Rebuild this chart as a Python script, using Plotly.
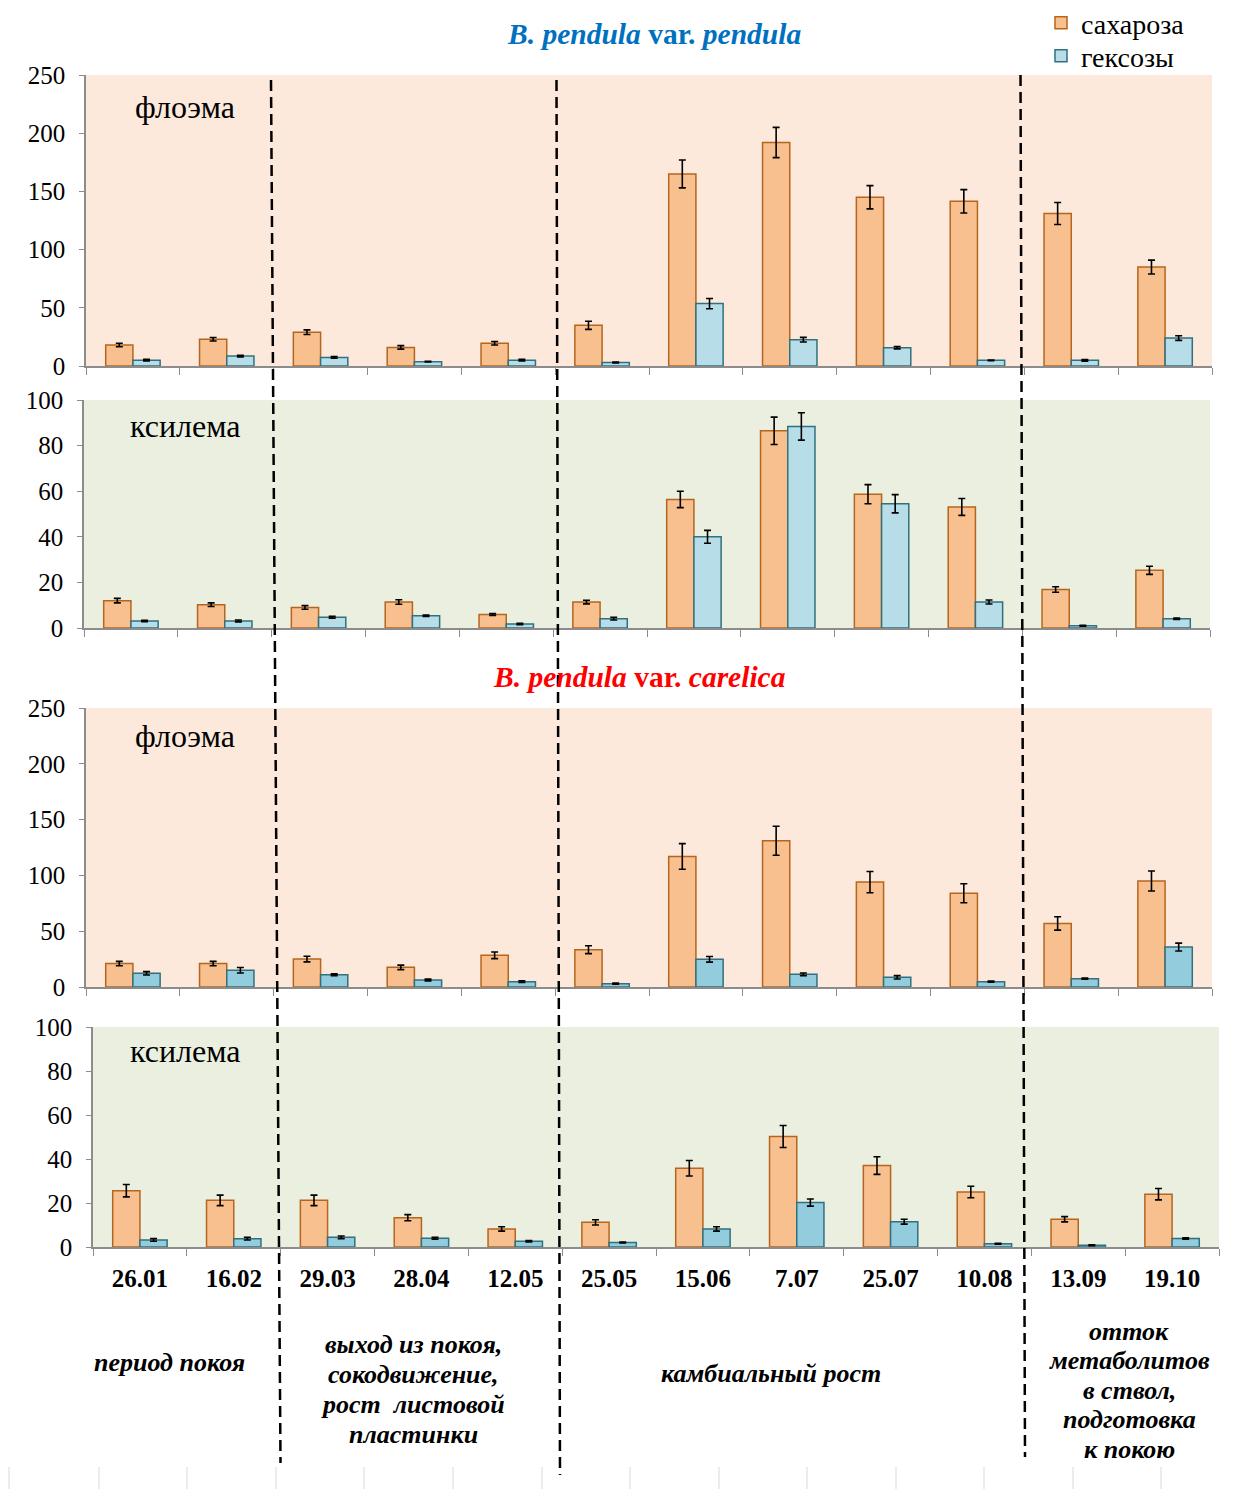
import plotly.graph_objects as go

# ---------------- data ----------------
dates = ["26.01", "16.02", "29.03", "28.04", "12.05", "25.05",
         "15.06", "7.07", "25.07", "10.08", "13.09", "19.10"]
series_names = ["сахароза", "гексозы"]

pendula_phloem_suc = [18, 23, 29, 16, 19.5, 35, 165, 192, 145, 141.5, 131, 85]
pendula_phloem_suc_err = [1.5, 1.5, 2, 1.5, 1.5, 3.5, 12, 13, 10, 10, 9.5, 6]
pendula_phloem_hex = [5, 8.5, 7.4, 3.7, 5, 3, 53.6, 22.6, 15.7, 4.9, 4.9, 24]
pendula_phloem_hex_err = [0.7, 0.7, 0.7, 0.3, 0.7, 0.3, 4.4, 2, 1, 0.3, 0.7, 2]

pendula_xylem_suc = [12, 10.2, 9, 11.4, 5.9, 11.4, 56.4, 86.5, 58.7, 53.1, 16.9, 25.3]
pendula_xylem_suc_err = [1, 0.8, 0.8, 1, 0.4, 0.8, 3.6, 6, 4.2, 3.7, 1.2, 1.8]
pendula_xylem_hex = [3.1, 3.1, 4.7, 5.4, 1.8, 4.1, 40, 88.4, 54.5, 11.4, 1.0, 4.1]
pendula_xylem_hex_err = [0.3, 0.4, 0.4, 0.3, 0.3, 0.6, 2.8, 6, 4, 0.9, 0.2, 0.3]

carelica_phloem_suc = [21, 21, 25, 17.6, 28.4, 33.4, 117, 131, 94, 84, 57, 95]
carelica_phloem_suc_err = [2, 2, 2.5, 2, 3, 3.5, 11.5, 13, 9.5, 8.5, 6, 9]
carelica_phloem_hex = [12.3, 15, 11, 6.3, 4.8, 3, 24.8, 11.4, 8.7, 4.8, 7.5, 35.8]
carelica_phloem_hex_err = [1.5, 2.5, 0.8, 0.8, 0.8, 0.5, 2.5, 1.2, 1.5, 0.5, 0.6, 3.5]

carelica_xylem_suc = [25.6, 21.2, 21.2, 13.3, 8.2, 11.2, 35.8, 50.2, 37, 25, 12.6, 24]
carelica_xylem_suc_err = [2.8, 2.4, 2.4, 1.4, 1, 1.2, 3.5, 5, 4, 2.6, 1.2, 2.6]
carelica_xylem_hex = [3.2, 3.8, 4.4, 4, 2.6, 2, 8.2, 20.2, 11.5, 1.5, 0.8, 3.9]
carelica_xylem_hex_err = [0.6, 0.6, 0.6, 0.4, 0.3, 0.2, 1, 1.6, 1.1, 0.2, 0.2, 0.3]

panel_labels = ["флоэма", "ксилема", "флоэма", "ксилема"]
title_pendula = "<b><i>B. pendula</i> var. <i>pendula</i></b>"
title_carelica = "<b><i>B. pendula</i> var. <i>carelica</i></b>"
phase_labels = [
    ["период покоя"],
    ["выход из покоя,", "сокодвижение,", "рост  листовой", "пластинки"],
    ["камбиальный рост"],
    ["отток", "метаболитов", "в ствол,", "подготовка", "к покою"],
]

# ---------------- layout constants ----------------
W, H = 1240, 1489
FONT = "Liberation Serif"


def fx(px):
    return px / W


def fy(py):
    return 1 - py / H


panels = [
    dict(suc=pendula_phloem_suc, suc_err=pendula_phloem_suc_err,
         hex=pendula_phloem_hex, hex_err=pendula_phloem_hex_err,
         x=(86, 1212), y=(75, 366), rng=250, dtick=50, bg="#FCE9DB",
         hexcol="#B7DEE8", label_xy=(185, 107)),
    dict(suc=pendula_xylem_suc, suc_err=pendula_xylem_suc_err,
         hex=pendula_xylem_hex, hex_err=pendula_xylem_hex_err,
         x=(84, 1210), y=(400, 628), rng=100, dtick=20, bg="#EBEFDF",
         hexcol="#B7DEE8", label_xy=(185, 426)),
    dict(suc=carelica_phloem_suc, suc_err=carelica_phloem_suc_err,
         hex=carelica_phloem_hex, hex_err=carelica_phloem_hex_err,
         x=(86, 1212), y=(708, 987), rng=250, dtick=50, bg="#FCE9DB",
         hexcol="#93CDDD", label_xy=(185, 736)),
    dict(suc=carelica_xylem_suc, suc_err=carelica_xylem_suc_err,
         hex=carelica_xylem_hex, hex_err=carelica_xylem_hex_err,
         x=(93, 1219), y=(1027, 1247), rng=100, dtick=20, bg="#EBEFDF",
         hexcol="#93CDDD", label_xy=(185, 1051)),
]

fig = go.Figure()
shapes = []
annotations = []
layout_axes = {}

for i, p in enumerate(panels):
    n = "" if i == 0 else str(i + 1)
    xa, ya = "x" + n, "y" + n
    fig.add_trace(go.Bar(
        x=dates, y=p["suc"], name=series_names[0], xaxis=xa, yaxis=ya,
        marker=dict(color="#F9C08F", line=dict(color="#B5651D", width=1.5)),
        error_y=dict(type="data", array=p["suc_err"], color="black",
                     thickness=1.6, width=3.5),
        legend="legend", showlegend=(i == 0), offsetgroup="s"))
    fig.add_trace(go.Bar(
        x=dates, y=p["hex"], name=series_names[1], xaxis=xa, yaxis=ya,
        marker=dict(color=p["hexcol"], line=dict(color="#31707F", width=1.5)),
        error_y=dict(type="data", array=p["hex_err"], color="black",
                     thickness=1.6, width=3.5),
        legend="legend2", showlegend=(i == 0), offsetgroup="h"))

    layout_axes["xaxis" + n] = dict(
        domain=[fx(p["x"][0]), fx(p["x"][1])], anchor=ya, type="category",
        showline=True, linecolor="#8C8C8C", linewidth=1.5,
        ticks="outside", tickson="boundaries", ticklen=7, tickcolor="#8C8C8C",
        tickwidth=1, showgrid=False, showticklabels=(i == 3),
        tickfont=dict(family=FONT, size=25, color="black", weight="bold"),
        ticklabelstandoff=8,
    )
    layout_axes["yaxis" + n] = dict(
        domain=[fy(p["y"][1]), fy(p["y"][0])], anchor=xa,
        range=[0, p["rng"]], dtick=p["dtick"], showgrid=False, zeroline=False,
        showline=True, linecolor="#8C8C8C", linewidth=1.5,
        ticks="outside", ticklen=5, tickcolor="#8C8C8C", tickwidth=1,
        tickfont=dict(family=FONT, size=25, color="black"),
        ticklabelstandoff=9,
    )
    shapes.append(dict(type="rect", xref=xa + " domain", yref=ya + " domain",
                       x0=0, x1=1, y0=0, y1=1, fillcolor=p["bg"],
                       line=dict(width=0), layer="below"))
    annotations.append(dict(text=panel_labels[i], xref="paper", yref="paper",
                            x=fx(p["label_xy"][0]), y=fy(p["label_xy"][1]),
                            xanchor="center", yanchor="middle", showarrow=False,
                            font=dict(family=FONT, size=32, color="black")))

# titles
annotations.append(dict(text=title_pendula, xref="paper", yref="paper",
                        x=fx(654), y=fy(34), xanchor="center", yanchor="middle",
                        showarrow=False,
                        font=dict(family=FONT, size=29.5, color="#0070C0")))
annotations.append(dict(text=title_carelica, xref="paper", yref="paper",
                        x=fx(639), y=fy(677), xanchor="center", yanchor="middle",
                        showarrow=False,
                        font=dict(family=FONT, size=29.5, color="#FF0000")))

# phase labels (one annotation per line to keep the line spacing)
phase_pos = [(169, 1362), (413, 1344), (771, 1373), (1129, 1331)]
phase_step = [30, 30.3, 30, 29.5]
for lines, (px, py), step in zip(phase_labels, phase_pos, phase_step):
    for k, t in enumerate(lines):
        annotations.append(dict(text="<b><i>" + t + "</i></b>", xref="paper", yref="paper",
                                x=fx(px), y=fy(py + k * step), xanchor="center",
                                yanchor="middle", showarrow=False,
                                font=dict(family=FONT, size=26, color="black")))

# dashed phase separators
separators = [((271, 80), (280.5, 1463)), ((556.5, 80), (560, 1475)),
              ((1020.5, 75), (1025, 1457))]
for (x0, y0), (x1, y1) in separators:
    shapes.append(dict(type="line", xref="paper", yref="paper",
                       x0=fx(x0), y0=fy(y0), x1=fx(x1), y1=fy(y1),
                       line=dict(color="black", width=2.5, dash="11px,6px"),
                       layer="above"))

# faint ticks at the very bottom
for bx in [9, 99, 187, 276, 364, 453, 542, 630, 719, 807, 896, 984, 1073, 1161]:
    shapes.append(dict(type="line", xref="paper", yref="paper",
                       x0=fx(bx), x1=fx(bx), y0=fy(1467), y1=fy(1489),
                       line=dict(color="#D9D9D9", width=1)))

legend_style = dict(xanchor="left", yanchor="top",
                    font=dict(family=FONT, size=28, color="black"),
                    bgcolor="rgba(0,0,0,0)", itemwidth=30)

fig.update_layout(
    width=W, height=H, margin=dict(l=0, r=0, t=0, b=0, autoexpand=False),
    paper_bgcolor="white", plot_bgcolor="rgba(0,0,0,0)",
    barmode="group", bargap=0.42, bargroupgap=0,
    font=dict(family=FONT, color="black"),
    legend=dict(x=fx(1041), y=1 + 2 / H, **legend_style),
    legend2=dict(x=fx(1041), y=1 - 31 / H, **legend_style),
    shapes=shapes, annotations=annotations,
    **layout_axes,
)

fig.write_html(
    "out.html",
    config={"displayModeBar": False},
    post_script=(
        "var d=document.getElementById('{plot_id}');"
        "d.style.position='fixed';d.style.top='0px';d.style.left='0px';"
        "document.body.style.margin='0';"
        "document.documentElement.style.overflow='hidden';"
        "document.body.style.overflow='hidden';"
    ),
)
